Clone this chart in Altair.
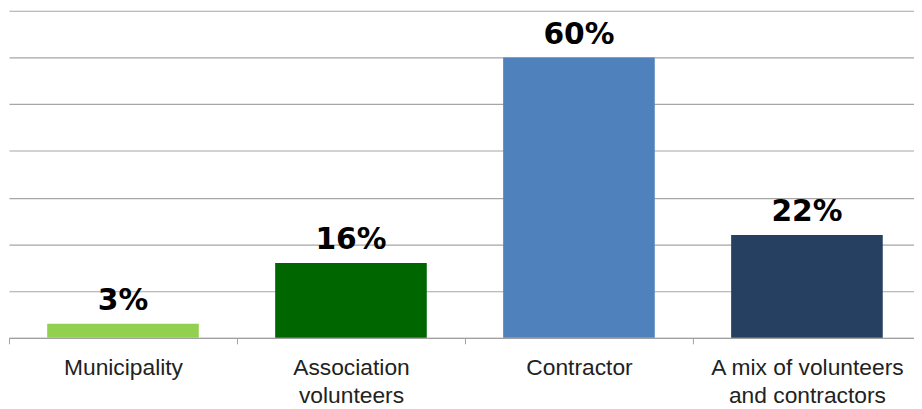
import altair as alt
import pandas as pd

categories = ["Municipality", "Association volunteers", "Contractor", "A mix of volunteers and contractors"]
label_lines = [["Municipality"], ["Association", "volunteers"], ["Contractor"], ["A mix of volunteers", "and contractors"]]
values = [3, 16, 60, 22]
colors = ["#92D050", "#006600", "#4F81BD", "#254061"]

df = pd.DataFrame({
    "category": categories,
    "value": values,
    "label": [f"{v}%" for v in values],
})

parts = []
for cat, lines in zip(categories, label_lines):
    arr = "[" + ",".join("'" + l + "'" for l in lines) + "]"
    parts.append(f"datum.label == '{cat}' ? {arr} : ")
label_expr = "".join(parts) + "datum.label"

x = alt.X(
    "category:N",
    sort=categories,
    title=None,
    scale=alt.Scale(range=[0, 920], paddingInner=0.335, paddingOuter=0.1675),
    axis=alt.Axis(
        labelAngle=0,
        labelExpr=label_expr,
        labelFont="Liberation Sans",
        labelFontSize=23,
        labelColor="#222222",
        labelLineHeight=28,
        labelPadding=13,
        labelBaseline="top",
        labelLimit=400,
        tickOffset=-115,
        labelOffset=115,
        tickSize=6,
        tickColor="#A0A0A0",
        domainColor="#A0A0A0",
        domainWidth=1,
        grid=False,
    ),
)

y = alt.Y(
    "value:Q",
    title=None,
    scale=alt.Scale(domain=[0, 70], nice=False),
    axis=alt.Axis(
        values=[0, 10, 20, 30, 40, 50, 60, 70],
        labels=False,
        ticks=False,
        domain=False,
        grid=True,
        gridColor="#A6A6A6",
        gridWidth=1.2,
    ),
)

base = alt.Chart(df)

bars = base.mark_bar().encode(
    x=x,
    y=y,
    color=alt.Color("category:N", sort=categories,
                    scale=alt.Scale(domain=categories, range=colors), legend=None),
)

text = base.mark_text(
    font="DejaVu Sans",
    fontWeight="bold",
    fontSize=30,
    color="#000000",
    baseline="alphabetic",
    dy=-14,
).encode(
    x=alt.X("category:N", sort=categories),
    y=alt.Y("value:Q"),
    text="label:N",
)

chart = (bars + text).properties(
    width=913,
    height=330,
    autosize=alt.AutoSizeParams(type="none"),
    padding={"left": 1, "top": 1, "right": 0, "bottom": 70},
).configure_view(stroke=None)

chart.save("out.html", embed_options={"renderer": "svg", "actions": False})
